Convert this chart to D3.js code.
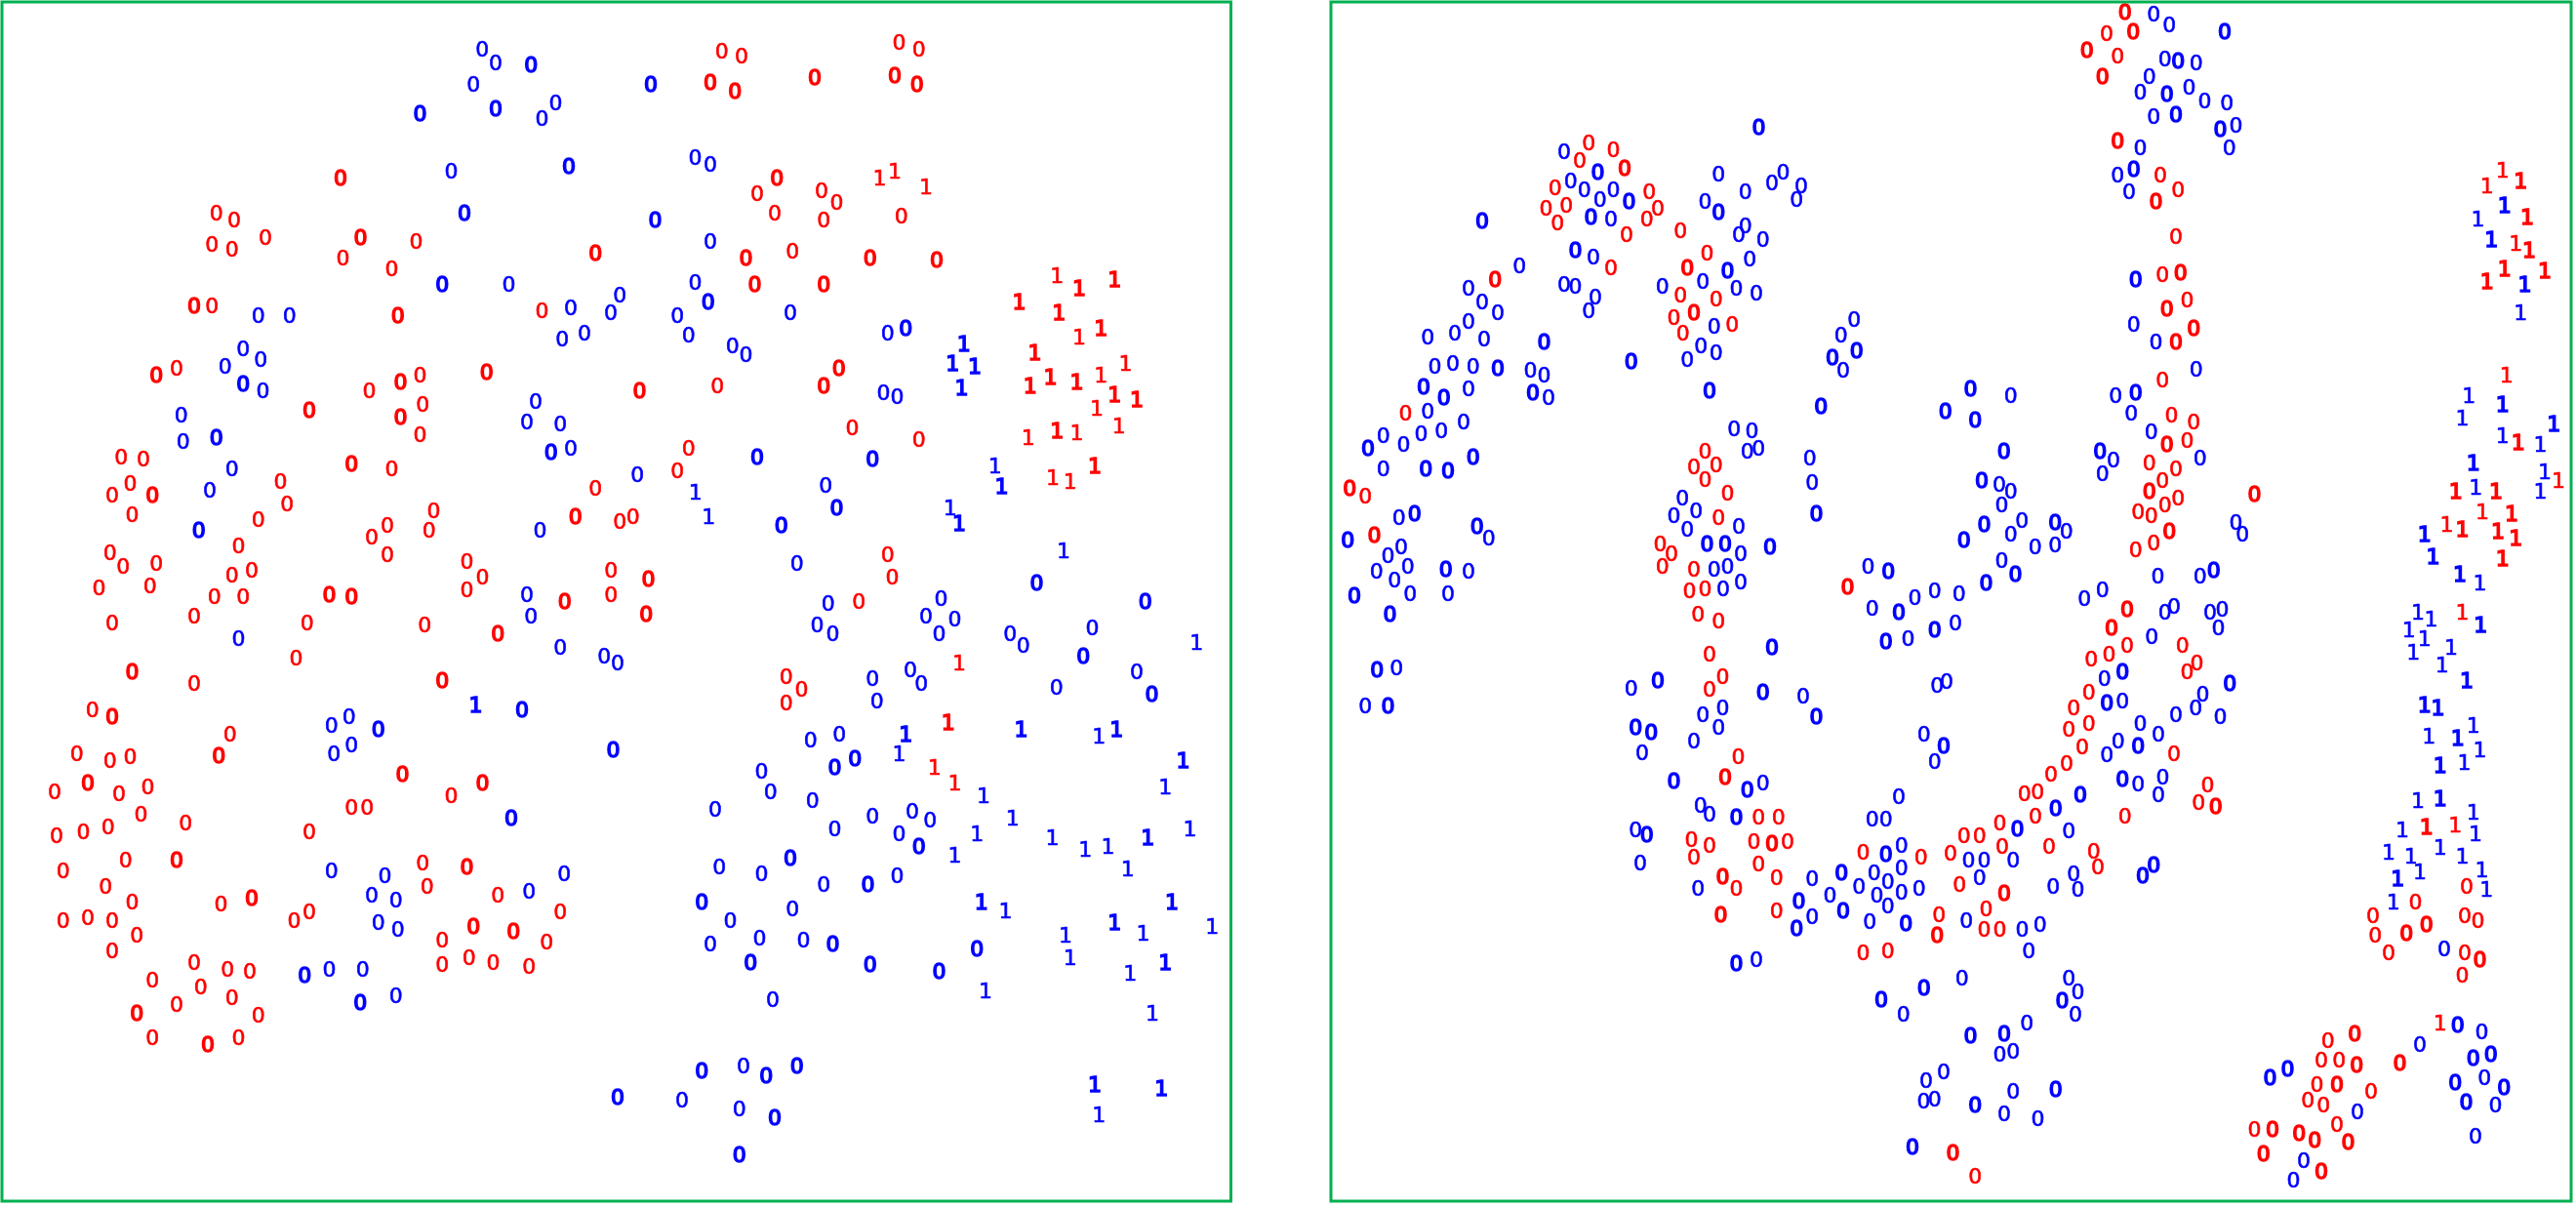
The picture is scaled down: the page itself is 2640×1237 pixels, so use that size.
<!DOCTYPE html>
<html>
<head>
<meta charset="utf-8">
<script src="https://cdn.jsdelivr.net/npm/d3@7"></script>
<style>
  html, body { margin: 0; padding: 0; background: #fff; }
  svg { display: block; }
  text { font-family: "DejaVu Sans"; font-size: 22px; text-anchor: middle; dominant-baseline: central; }
</style>
</head>
<body>
<svg width="2640" height="1237"></svg>
<script>
// points are [x, y] or [x, y, 1] where the 1 means the glyph prints heavier
// a = left scatter, b = right scatter; 1-4 = NW, NE, SW, SE part of the scatter

const a1Blue0 = [[1174,125],[1207,160],[1293,166,1],[1153,217],[1023,292,1],[1207,281,1],[1353,264],[1320,304],[1099,441],[1385,430,1],[1131,551,1],[1077,735,1],[1239,735],[1390,797],[1509,763],[1487,809],[1423,861],[1369,878],[629,815],[705,815],[592,901],[635,930],[548,947],[592,993,1],[640,1010],[441,1073],[446,1142],[527,1131,1],[565,1212],[511,1269],[484,1372,1],[1304,1039],[1283,1091],[1364,1096],[1342,1171,1],[1390,1160],[1552,1228],[1315,1372],[1283,1539]];
const a1Red0 = [[829,459,1],[527,551],[570,568],[516,631],[565,643],[646,614],[878,614,1],[1013,625],[835,666],[954,695],[1450,655,1],[473,792,1],[516,792],[969,815,1],[1320,804],[381,970,1],[430,953],[899,1010],[975,987,1],[1023,970],[1185,964,1],[1029,1045],[753,1062,1],[975,1079,1],[1023,1125],[856,1200,1],[954,1212],[295,1183],[349,1189],[317,1252],[273,1281],[371,1281,1],[322,1333],[683,1246],[699,1304],[629,1344],[1450,1263],[1056,1321],[943,1361],[905,1390],[1045,1373],[1401,1338,1],[1509,1350],[1541,1338],[268,1430],[300,1465],[381,1459],[581,1413],[943,1436],[1137,1453],[1175,1493],[1137,1528],[1488,1476],[1488,1539],[613,1476],[565,1488],[241,1522],[365,1516],[522,1545],[592,1545],[802,1539,1],[856,1545,1],[1375,1556,1]];

const a2Red0 = [[237,131],[285,143],[209,212,1],[269,235,1],[463,200,1],[669,108],[717,125],[658,194,1],[712,218,1],[371,459,1],[323,499],[366,551],[480,493],[517,522],[485,568],[674,557],[296,666,1],[409,649],[598,666,1],[760,672,1],[317,735,1],[485,735,1],[37,1010,1],[226,999],[485,999,1],[522,953,1],[555,1108],[717,1137],[156,1160],[129,1217],[58,1499,1],[641,1436],[652,1493],[571,1556]];
const a2Blue0 = [[64,218,1],[172,407],[209,425],[75,568,1],[209,625],[172,729],[204,781,1],[129,815],[156,867],[263,895],[296,918],[404,809],[641,861],[685,850,1],[631,1016],[664,1027],[323,1183,1],[604,1188,1],[490,1257],[517,1315,1],[382,1361,1],[420,1459],[1004,1510,1],[1268,1556,1],[771,1550],[496,1562]];
const a2Red1 = [[621,459],[658,442],[734,482],[1053,712],[1107,746,1],[1193,723,1],[961,781,1],[1058,809,1],[1107,872],[1160,850,1],[999,912,1],[1220,941],[988,999,1],[1037,976,1],[1101,987,1],[1160,970],[1193,1022,1],[1247,1033,1],[1150,1056],[1204,1102],[983,1131],[1053,1114,1],[1101,1119],[1145,1206,1],[1043,1235],[1085,1246]];
const a2Blue1 = [[826,889,1],[799,941,1],[853,947,1],[821,1004,1],[902,1206],[918,1258,1],[793,1315],[815,1356,1],[173,1275],[205,1338],[1069,1425]];

const a3Red0 = [[273,45],[473,28],[748,45],[1034,51],[1212,74,1],[721,137],[322,173,1],[473,202],[1077,196,1],[225,271],[273,288,1],[560,334],[533,391,1],[187,386],[268,403],[317,392],[980,438,1],[214,461,1],[133,484],[290,490],[360,473],[1175,461,1],[1099,496],[856,525],[894,525],[343,542],[452,565],[753,588],[263,576],[203,588],[138,599],[306,663],[430,663,1],[154,691],[257,732],[1029,669],[1137,680,1],[1040,732],[322,773],[538,778],[613,761,1],[753,796],[716,819],[1212,755],[154,819],[214,813],[273,819],[333,859],[1153,836,1],[1250,848,1],[1364,796],[1331,877],[1077,871],[273,899],[1077,935],[1142,917],[1201,929],[1288,940],[473,929],[554,946],[608,952],[371,975],[489,992],[565,1021],[430,1038],[333,1062,1],[629,1067],[371,1125],[581,1125],[506,1142,1]];
const a3Blue0 = [[1293,28],[581,86],[1364,109],[1471,132],[1504,149],[1271,271,1],[850,288],[807,311],[921,323,1],[856,363],[813,386],[1493,375,1],[1245,553,1],[807,691],[937,703],[905,755],[964,767],[921,825],[969,842],[1374,697],[1288,743],[742,963,1],[802,946],[883,946],[877,1033,1],[964,1015],[1504,1281,1]];
const a3Blue1 = [[1158,259,1]];

const a4Blue0 = [[469,51],[507,74],[734,28],[804,34],[766,74],[939,74],[971,103],[1139,57],[1117,132,1],[604,190],[696,167],[723,202],[615,248],[1052,213],[1247,173],[1284,231,1],[523,334],[453,351],[561,398,1],[512,421,1],[334,432],[356,484],[458,507],[221,530],[604,547],[701,536],[744,559],[512,582],[669,594],[717,628,1],[404,657,1],[231,680],[334,697],[485,726],[593,726,1],[664,703],[188,772,1],[409,790],[258,819],[329,865],[209,882],[436,871],[507,882,1],[307,929,1],[598,934,1],[766,952,1],[858,894,1],[361,1027],[188,1212,1],[290,1200],[345,1223,1],[420,1200,1],[140,1287],[280,1310],[366,1333,1],[280,1430,1]];
const a4Red0 = [[53,23,1],[394,184],[431,219],[394,253]];
const a4Red1 = [[815,150],[788,305,1],[755,421],[804,461]];
const a4Blue1 = [[1393,97],[685,334,1],[669,386],[966,323,1],[1155,340],[1198,323,1],[1360,403,1],[1317,473],[874,496],[945,553],[858,594],[1042,605],[1122,634],[1177,628],[1274,605,1],[1377,582],[804,651],[1225,686],[869,772,1],[928,795],[1333,772,1],[1193,824,1],[1074,859],[1263,853],[1431,836],[1085,917],[1317,929,1],[1231,957],[879,1003],[1285,1061],[1145,1246,1],[1307,1258,1],[1155,1327]];

const b1Blue0 = [[1099,329,1],[625,392],[707,444,1],[641,467],[1001,450],[1158,444],[1131,473],[1202,479],[1191,514],[1066,496],[968,519],[1001,548,1],[674,490],[745,490],[712,514],[783,519,1],[690,560,1],[739,566],[425,571,1],[1066,583],[1050,606],[1109,618],[652,647,1],[696,664],[1077,670],[1023,699,1],[516,687],[625,734],[652,739],[701,768],[685,803],[864,739],[963,728],[1044,745],[1093,757],[392,745],[425,780],[463,809],[392,832],[359,861],[293,873],[430,878],[576,884,1],[990,843],[958,895],[995,913],[925,930],[788,936,1],[1331,826],[1299,866],[1278,924,1],[1337,907,1],[1304,959],[310,947],[354,941],[403,947],[463,953,1],[543,959],[576,970],[283,1000,1],[332,1029,1],[392,1005],[549,1017,1],[587,1029],[979,1011,1],[293,1063],[1250,1051,1],[1553,1063,1],[380,1092],[326,1115],[277,1121],[185,1127],[234,1150],[147,1161,1],[1039,1110],[1082,1115],[1071,1167],[1098,1161],[1223,1185],[185,1213],[288,1213,1],[342,1219,1],[403,1184,1],[1229,1248],[913,1288],[946,1323],[892,1335],[925,1369],[1050,1363],[223,1340],[261,1329,1],[98,1398,1],[413,1363,1],[441,1392],[228,1415],[196,1438],[1239,1329,1],[973,1409,1],[1017,1409,1],[1055,1432],[1126,1415,1],[168,1478],[212,1501],[244,1467],[337,1473,1],[392,1478],[990,1473],[1023,1467],[1055,1507],[1012,1525],[1365,1467],[1414,1478,1],[1527,1530],[114,1542,1],[250,1536],[342,1536],[1479,1548]];
const b1Red0 = [[685,369],[745,387],[663,415],[772,433,1],[603,485],[832,496],[630,531],[581,537],[853,537],[826,566],[609,577],[777,606],[908,595],[973,653],[925,693,1],[739,693],[457,722,1],[908,762],[995,774],[941,809,1],[892,821],[1034,838],[914,861],[239,1069],[968,1167],[995,1202],[941,1208],[968,1242],[1023,1277],[103,1265,1],[141,1283],[1001,1340],[163,1386,1],[859,1409],[886,1432],[864,1467],[941,1473],[930,1530],[968,1525],[1315,1519,1]];

const b2Red0 = [[470,29,1],[425,86],[490,80,1],[377,127,1],[452,144],[415,196,1],[452,363,1],[556,451],[599,491],[545,520,1],[594,612],[561,711],[605,706,1],[621,775],[572,798,1],[637,850,1],[594,885,1],[561,983],[583,1075],[637,1093],[621,1139],[572,1150,1],[529,1197],[594,1214],[561,1243],[529,1272,1],[785,1278,1],[599,1289],[567,1306],[502,1324],[534,1335],[578,1376,1],[540,1405],[496,1422]];
const b2Blue0 = [[540,34],[578,63],[713,80,1],[567,150],[599,155,1],[643,161],[529,196],[507,236],[572,242,1],[626,225],[664,259],[718,265],[540,300],[594,294,1],[702,334,1],[740,323],[507,380],[724,380],[491,438,1],[452,451],[480,496],[496,723,1],[491,838],[545,885],[643,954],[94,1005,1],[192,1023],[447,1023],[496,1017,1],[105,1087,1],[485,1070],[534,1116],[175,1168,1],[409,1168,1],[442,1191],[653,1185],[415,1226],[121,1243,1],[164,1254],[192,1272],[170,1306],[127,1358,1],[219,1347],[300,1352,1],[327,1376],[192,1382],[78,1399,1],[251,1416],[300,1411],[740,1352],[756,1382],[170,1451],[203,1486,1],[132,1509,1],[66,1538],[550,1492],[653,1492],[686,1475,1],[415,1527],[371,1550]];
const b2Red1 = [[1389,439],[1351,480],[1433,468,1],[1449,560,1],[1421,630],[1454,647,1],[1394,694,1],[1492,699,1],[1351,728,1],[1399,971],[1427,1145,1],[1525,1243],[1275,1272,1],[1373,1272,1],[1340,1324],[1411,1329,1],[1253,1358],[1291,1370,1],[1378,1376,1],[1421,1393,1],[1389,1445,1]];
const b2Blue1 = [[1394,531,1],[1329,566],[1362,618,1],[1443,734,1],[1433,809],[1307,1023],[1389,1046,1],[1291,1081],[1514,1098,1],[1389,1127],[1481,1150],[1318,1197,1],[1492,1220],[1324,1260],[1481,1272],[1199,1382,1],[1220,1440,1],[1285,1486,1],[1334,1509]];

const b3Blue0 = [[1375,8],[1440,18,1],[201,23,1],[1408,92,1],[1462,86],[1527,63,1],[1131,109,1],[169,167,1],[217,161],[853,196,1],[788,214],[1109,225,1],[1207,236],[1533,208],[1556,197],[141,260],[196,260,1],[1239,289,1],[1011,266],[963,283],[1001,318],[799,318,1],[837,330,1],[941,353],[1501,335],[815,382],[1549,364,1],[1527,405],[1109,463],[1071,480,1],[892,457,1],[957,521],[979,544],[1044,550,1],[1440,498],[1375,556],[1408,556],[799,585],[826,596,1],[810,671],[1446,625],[1408,648,1],[1446,683],[1380,695],[1300,695,1],[1229,712],[1413,718],[1343,730],[1489,736],[951,736],[1272,753],[1386,753],[1446,747],[1413,782],[1304,794,1],[1196,770,1],[1229,811],[1191,840,1],[1369,822],[1457,828,1],[1044,933,1],[1093,921],[1501,996,1],[1397,1025,1],[1451,1065],[1549,1215],[1506,1238],[1500,1290],[1527,1284],[1473,1410,1]];
const b3Red0 = [[951,23],[1001,40],[979,127],[1011,185],[979,219],[1049,393],[1017,446,1],[1098,550],[1147,550],[935,608],[979,625],[1087,614],[1131,620,1],[1169,614],[941,654],[1098,672],[1353,643],[1494,654],[1011,706,1],[1044,736],[1142,707],[1006,805,1],[1142,794],[1538,805],[1533,857,1],[1353,903],[1413,898]];

const b4Red0 = [[475,10,1],[437,57,1],[475,103],[431,126],[388,138],[610,103],[645,150],[621,173],[382,225],[345,265],[382,306],[333,323],[366,369],[589,386],[328,410],[290,438],[257,484],[225,490],[671,467],[649,513],[691,524,1],[470,547],[252,547],[165,565],[116,599],[78,599],[171,628],[285,628],[45,645],[394,639],[404,680],[67,726],[176,749,1],[132,790],[127,842],[165,842],[1302,732],[1177,772],[1074,807],[1297,807],[1329,819],[1204,830,1],[1155,853,1],[1079,859],[1112,905],[1297,905],[1334,922,1],[1291,963],[964,1132],[1029,1115,1],[948,1184],[991,1184],[1034,1196,1],[1139,1190,1],[937,1248],[986,1248,1],[1069,1265],[915,1288],[953,1300],[986,1352],[785,1364],[829,1364,1],[894,1375,1],[932,1392,1],[1013,1398,1],[807,1427,1],[948,1473,1],[51,1424,1],[105,1485]];
const b4Blue0 = [[567,17],[589,3],[677,17],[707,10],[57,45],[697,57],[535,80],[464,173,1],[420,190],[725,202,1],[659,231],[642,265],[426,254,1],[464,248],[594,283],[702,289],[507,306],[551,335],[453,352],[502,365,1],[426,387],[464,452,1],[502,464],[562,446],[551,493],[361,493,1],[301,527,1],[208,580,1],[333,587],[89,662],[127,662],[198,662],[116,709],[540,674,1],[513,703,1],[345,697],[295,732],[355,738],[84,819],[220,842],[263,830],[236,900],[73,970],[333,970],[355,1005],[317,1028,1],[349,1063],[231,1086],[94,1121,1],[176,1115,1],[198,1161],[165,1167],[198,1266],[301,1260,1],[105,1301,1],[176,1324],[258,1336],[1247,894],[1188,1144],[1280,1092,1],[1339,1109],[1318,1178,1],[1361,1167,1],[866,1207,1],[823,1230,1],[1274,1242,1],[1345,1230],[1393,1254,1],[1301,1294,1],[1372,1300],[1036,1317],[1323,1381],[905,1445],[880,1496]];
const b4Blue1 = [[1183,17],[1215,34],[1336,51,1],[1161,63],[1199,86],[1264,109],[1172,121],[1242,155],[1302,196,1],[1199,259,1],[1232,265,1],[1318,311],[1210,340],[1280,346,1],[1334,375],[1237,415,1],[1296,409],[1183,508],[1237,502,1],[1318,537],[1145,583],[1323,595],[1237,629],[1112,641],[1291,652],[1166,652],[1339,687],[1188,692],[1134,710,1],[1350,739],[1123,773]];
const b4Red1 = [[1291,17],[1204,577,1],[1274,571],[1237,1086]];

// value range of each part, it goes onto the page through its own pair of scales
const readRange = [0, 1568];
const parts = [
  { x: [0, 660],     y: [0, 620],    sets: [[a1Blue0, '0', 'blue'], [a1Red0, '0', 'red']] },
  { x: [640, 1300],  y: [0, 620],    sets: [[a2Blue0, '0', 'blue'], [a2Red0, '0', 'red'], [a2Blue1, '1', 'blue'], [a2Red1, '1', 'red']] },
  { x: [0, 660],     y: [620, 1237], sets: [[a3Blue0, '0', 'blue'], [a3Red0, '0', 'red'], [a3Blue1, '1', 'blue']] },
  { x: [640, 1300],  y: [620, 1237], sets: [[a4Blue0, '0', 'blue'], [a4Red0, '0', 'red'], [a4Blue1, '1', 'blue'], [a4Red1, '1', 'red']] },
  { x: [1340, 2000], y: [0, 620],    sets: [[b1Blue0, '0', 'blue'], [b1Red0, '0', 'red']] },
  { x: [1980, 2640], y: [0, 620],    sets: [[b2Blue0, '0', 'blue'], [b2Red0, '0', 'red'], [b2Blue1, '1', 'blue'], [b2Red1, '1', 'red']] },
  { x: [1340, 2000], y: [620, 1237], sets: [[b3Blue0, '0', 'blue'], [b3Red0, '0', 'red']] },
  { x: [1980, 2640], y: [620, 1237], sets: [[b4Blue0, '0', 'blue'], [b4Red0, '0', 'red'], [b4Blue1, '1', 'blue'], [b4Red1, '1', 'red']] }
];

const svg = d3.select('svg');

svg.append('defs').append('filter')
  .attr('id', 'soft')
  .attr('x', '-2%').attr('y', '-2%').attr('width', '104%').attr('height', '104%')
  .append('feGaussianBlur')
  .attr('stdDeviation', 0.55);

const marks = svg.append('g').attr('filter', 'url(#soft)');

parts.forEach(part => {
  const x = d3.scaleLinear().domain(readRange).range(part.x);
  const y = d3.scaleLinear().domain(readRange).range(part.y);

  part.sets.forEach(([points, digit, color]) => {
    marks.append('g')
      .attr('fill', color)
      .attr('stroke', color)
      .selectAll('text')
      .data(points)
      .enter()
      .append('text')
      .attr('x', d => x(d[0]))
      .attr('y', d => y(d[1]) + 0.8)
      .attr('stroke-width', d => d[2] ? 1.5 : 0.6)
      .text(digit);
  });
});

// the two green frames
const frames = [[2, 2, 1259.5, 1229], [1364, 2, 1271, 1229]];
svg.selectAll('rect.frame')
  .data(frames)
  .enter()
  .append('rect')
  .attr('class', 'frame')
  .attr('x', d => d[0])
  .attr('y', d => d[1])
  .attr('width', d => d[2])
  .attr('height', d => d[3])
  .attr('fill', 'none')
  .attr('stroke', '#00b050')
  .attr('stroke-width', 3);
</script>
</body>
</html>
